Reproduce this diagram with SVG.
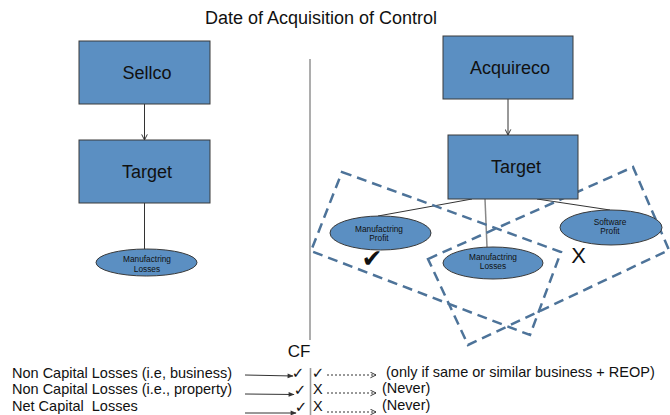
<svg xmlns="http://www.w3.org/2000/svg" width="670" height="415" viewBox="0 0 670 415">
<style>
text{font-family:"Liberation Sans",Arial,sans-serif;fill:#111}
.box{fill:#5b8fc2;stroke:#3a3a3a;stroke-width:1}
.ell{fill:#5b8fc2;stroke:#3a3a3a;stroke-width:1}
.big{font-size:18px;text-anchor:middle}
.small{font-size:8.3px;text-anchor:middle}
.ln{stroke:#333;stroke-width:1;fill:none}
.dash{fill:none;stroke:#4d7399;stroke-width:2.5;stroke-dasharray:10 6}
.row{font-size:14.5px;white-space:pre}
.dot{stroke:#333;stroke-width:1;stroke-dasharray:2 2;fill:none}
.ck{font-family:"DejaVu Sans",sans-serif;font-size:15px;text-anchor:middle}
</style>
<defs>
<marker id="ah" viewBox="0 0 10 10" refX="9" refY="5" markerWidth="7" markerHeight="7" orient="auto" markerUnits="userSpaceOnUse">
<path d="M1,1 L9,5 L1,9" fill="none" stroke="#333" stroke-width="1.4"/>
</marker>
<marker id="ahf" viewBox="0 0 10 10" refX="9" refY="5" markerWidth="7" markerHeight="6" orient="auto" markerUnits="userSpaceOnUse">
<path d="M0,1 L10,5 L0,9 Z" fill="#333"/>
</marker>
</defs>
<rect width="670" height="415" fill="#fff"/>
<text x="321" y="24" text-anchor="middle" style="font-size:18px">Date of Acquisition of Control</text>

<g id="connectors">
<line class="ln" x1="144.5" y1="104" x2="144.5" y2="140" marker-end="url(#ah)"/>
<line class="ln" x1="144.5" y1="203" x2="144.5" y2="249"/>
<line class="ln" x1="508" y1="99" x2="508" y2="135" marker-end="url(#ah)"/>
<line class="ln" x1="472" y1="199" x2="378" y2="216"/>
<line x1="485" y1="199" x2="487" y2="247" stroke="#888" stroke-width="1.5"/>
<line class="ln" x1="537" y1="199" x2="610" y2="210"/>
<line x1="310" y1="59" x2="310" y2="340" stroke="#999" stroke-width="1.6"/>
<line x1="310.5" y1="368" x2="310.5" y2="415" stroke="#999" stroke-width="1.6"/>
<line class="ln" x1="245" y1="375" x2="293" y2="376" marker-end="url(#ahf)"/>
<line class="ln" x1="245" y1="394" x2="294" y2="394.5" marker-end="url(#ahf)"/>
<line class="ln" x1="245" y1="413" x2="296" y2="413" marker-end="url(#ahf)"/>
<line class="dot" x1="327" y1="375" x2="376" y2="375" marker-end="url(#ah)"/>
<line class="dot" x1="327" y1="393" x2="376" y2="393" marker-end="url(#ah)"/>
<line class="dot" x1="327" y1="412" x2="376" y2="412" marker-end="url(#ah)"/>
</g>

<g id="groups">
<polygon class="dash" points="342,172 561,252 530,335 311,251"/>
<polygon class="dash" points="428,259 633,167 669,250 468,345"/>
</g>

<g id="sellco"><rect class="box" x="79" y="41" width="131" height="63"/><text class="big" x="147" y="79">Sellco</text></g>
<g id="target-left"><rect class="box" x="79" y="140" width="131" height="63"/><text class="big" x="147" y="178">Target</text></g>
<g id="mfg-losses-left"><ellipse class="ell" cx="146.5" cy="262.5" rx="50.5" ry="13.5"/><text class="small" x="147" y="262">Manufactring</text><text class="small" x="147" y="272">Losses</text></g>

<g id="acquireco"><rect class="box" x="443" y="36" width="130" height="63"/><text class="big" x="510" y="74">Acquireco</text></g>
<g id="target-right"><rect class="box" x="448" y="135" width="130" height="64"/><text class="big" x="516" y="173">Target</text></g>
<g id="mfg-profit"><ellipse class="ell" cx="380.5" cy="233" rx="50.5" ry="17"/><text class="small" x="379" y="232">Manufactring</text><text class="small" x="379" y="241">Profit</text></g>
<g id="mfg-losses-right"><ellipse class="ell" cx="493" cy="263" rx="50" ry="16"/><text class="small" x="493" y="260">Manufactring</text><text class="small" x="493" y="269">Losses</text></g>
<g id="software-profit"><ellipse class="ell" cx="611" cy="227.5" rx="51" ry="17.5"/><text class="small" x="610" y="225">Software</text><text class="small" x="610" y="234">Profit</text></g>
<text x="372" y="267" style="font-family:'DejaVu Sans',sans-serif;font-size:25px;font-weight:bold" text-anchor="middle">✔</text>
<text x="578.5" y="263" style="font-size:22px" text-anchor="middle">X</text>

<g id="table">
<text x="299" y="357" text-anchor="middle" style="font-size:17px">CF</text>
<text class="row" x="12" y="378">Non Capital Losses (i.e, business)</text>
<text class="row" x="12" y="394">Non Capital Losses (i.e., property)</text>
<text class="row" x="12" y="411" xml:space="preserve">Net Capital  Losses</text>
<text class="ck" x="298" y="378">✓</text>
<text class="ck" x="300" y="395">✓</text>
<text class="ck" x="301" y="412">✓</text>
<text class="ck" x="318" y="378">✓</text>
<text class="row" x="313" y="394">X</text>
<text class="row" x="313" y="411">X</text>
<text class="row" x="386" y="377">(only if same or similar business + REOP)</text>
<text class="row" x="382" y="393">(Never)</text>
<text class="row" x="382" y="410">(Never)</text>
</g>
</svg>
